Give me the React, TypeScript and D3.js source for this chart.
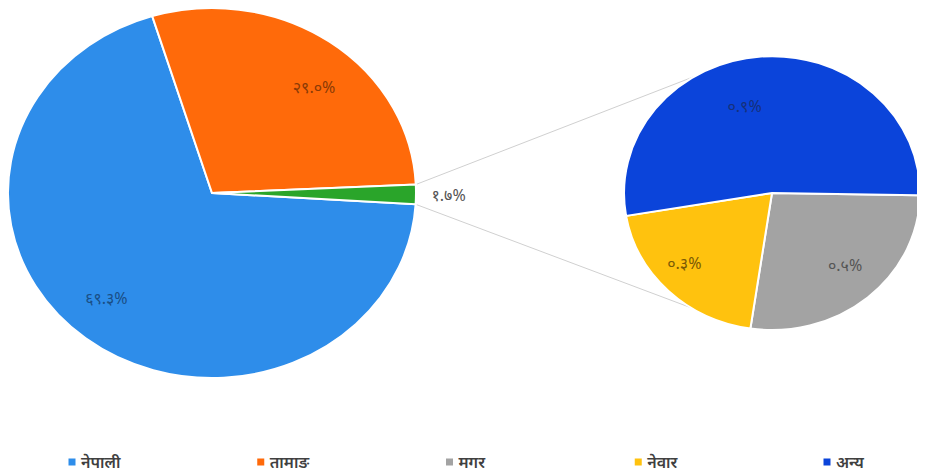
import { useRef, useEffect } from "react";
import * as d3 from "d3";

// main pie
const mainNames: string[] = ["नेपाली", "तामाङ", "अन्य"];
const mainValues: number[] = [69.3, 29.0, 1.7];
// second pie (split of the small slice)
const subNames: string[] = ["मगर", "नेवार", "अन्य"];
const subValues: number[] = [0.46, 0.34, 0.9];
const legendNames: string[] = ["नेपाली", "तामाङ", "मगर", "नेवार", "अन्य"];

const mainColors = ["#2E8DEA", "#FF6A0A", "#2AA52A"];
const subColors = ["#A3A3A3", "#FFC20E", "#0B44DA"];
const legendColors = ["#2E8DEA", "#FF6A0A", "#A3A3A3", "#FFC20E", "#0B44DA"];

const toNepali = (s: string) => s.replace(/[0-9]/g, (d) => "०१२३४५६७८९"[+d]);
const fmt = (v: number) => toNepali(v.toFixed(1)) + "%";

const W = 925;
const H = 476;
const FONT = "'Noto Sans', 'Noto Sans Devanagari', 'Lohit Devanagari', 'FreeSans', sans-serif";

const PieOfPie = () => {
  const svgRef = useRef<SVGSVGElement>(null);

  useEffect(() => {
    const svg: any = d3.select(svgRef.current);
    svg.selectAll("*").remove();

    const deg = Math.PI / 180;
    const big = { cx: 212, cy: 193, rx: 204, ry: 185 };
    const small = { cx: 772, cy: 193, rx: 148, ry: 137 };

    const mainStart = 93.5 * deg;
    const mainPie = d3.pie<number>().sort(null).startAngle(mainStart).endAngle(mainStart + 2 * Math.PI);
    const subStart = 91 * deg;
    const subPie = d3.pie<number>().sort(null).startAngle(subStart).endAngle(subStart + 2 * Math.PI);

    const arc: any = d3.arc().innerRadius(0).outerRadius(1);
    const pt = (e: any, a: number, r: number) => [e.cx + e.rx * r * Math.sin(a), e.cy - e.ry * r * Math.cos(a)];

    const mainArcs = mainPie(mainValues);
    const subArcs = subPie(subValues);

    // connector lines
    const other = mainArcs[2];
    const lines = [
      [pt(big, other.startAngle, 1), pt(small, -32 * deg, 1)],
      [pt(big, other.endAngle, 1), pt(small, 213 * deg, 1)],
    ];
    svg.append("g")
      .selectAll("line")
      .data(lines)
      .join("line")
      .attr("x1", (d: any) => d[0][0])
      .attr("y1", (d: any) => d[0][1])
      .attr("x2", (d: any) => d[1][0])
      .attr("y2", (d: any) => d[1][1])
      .attr("stroke", "#D0D0D0")
      .attr("stroke-width", 1);

    const drawPie = (e: any, arcs: any[], colors: string[]) => {
      svg.append("g")
        .attr("transform", `translate(${e.cx},${e.cy}) scale(${e.rx},${e.ry})`)
        .selectAll("path")
        .data(arcs)
        .join("path")
        .attr("d", arc)
        .attr("fill", (_: any, i: number) => colors[i])
        .attr("stroke", "#fff")
        .attr("stroke-width", 2)
        .attr("vector-effect", "non-scaling-stroke");
    };
    drawPie(big, mainArcs, mainColors);
    drawPie(small, subArcs, subColors);

    // label at slice middle, with a small angular nudge (degrees)
    const label = (e: any, a: any, r: number, nudge: number, text: string, color: string) => {
      const mid = (a.startAngle + a.endAngle) / 2 + nudge * deg;
      const [x, y] = pt(e, mid, r);
      svg.append("text")
        .attr("x", x)
        .attr("y", y)
        .attr("text-anchor", "middle")
        .attr("dominant-baseline", "central")
        .attr("font-family", FONT)
        .attr("font-size", 16)
        .attr("fill", color)
        .text(text);
    };
    label(big, mainArcs[0], 0.77, 4, fmt(mainValues[0]), "#1A4F86");
    label(big, mainArcs[1], 0.76, 6, fmt(mainValues[1]), "#8A3A06");
    label(big, mainArcs[2], 1.16, 0, fmt(mainValues[2]), "#555");
    label(small, subArcs[0], 0.72, -3, fmt(subValues[0]), "#555");
    label(small, subArcs[1], 0.78, 5, fmt(subValues[1]), "#7A5A06");
    label(small, subArcs[2], 0.66, -12, fmt(subValues[2]), "#16307A");

    // legend
    const legendX = d3.scalePoint<string>().domain(legendNames).range([72, 827]);
    const lg = svg.append("g")
      .selectAll("g")
      .data(legendNames)
      .join("g")
      .attr("transform", (d: string) => `translate(${legendX(d)},462)`);
    lg.append("rect")
      .attr("x", -3.5)
      .attr("y", -3.5)
      .attr("width", 7)
      .attr("height", 7)
      .attr("fill", (_: any, i: number) => legendColors[i]);
    lg.append("text")
      .attr("x", 9)
      .attr("y", 0)
      .attr("dominant-baseline", "central")
      .attr("font-family", FONT)
      .attr("font-size", 16)
      .attr("font-weight", 600)
      .attr("fill", "#404040")
      .text((d: string) => d);
  }, []);

  return <svg ref={svgRef} width={W} height={H} style={{ display: "block" }} />;
};

export default function App() {
  return (
    <div style={{ margin: -8, width: W, height: H, background: "#fff" }}>
      <PieOfPie />
    </div>
  );
}
